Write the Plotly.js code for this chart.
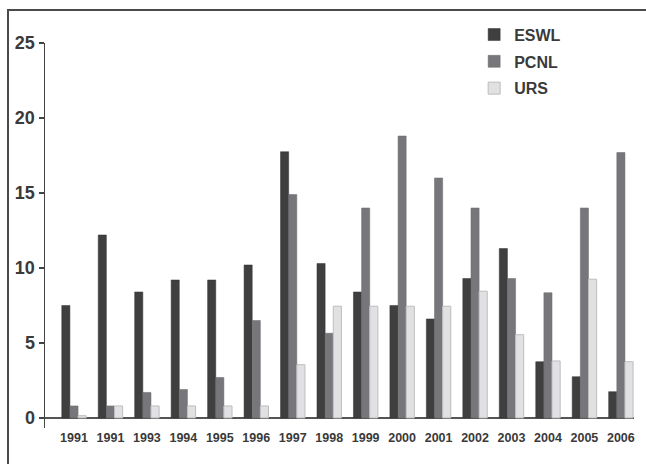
<!DOCTYPE html>
<html>
<head>
<meta charset="utf-8">
<script src="https://cdn.plot.ly/plotly-3.0.1.min.js"></script>
<style>
  html, body { margin: 0; padding: 0; background: #fff; }
  #wrap { position: relative; width: 646px; height: 464px; }
  #chart { position: absolute; left: 0; top: 0; width: 646px; height: 464px; }
  #frame { position: absolute; left: 7px; top: 9px; right: 0; bottom: 0;
           border-left: 2px solid #4a4a4a; border-top: 2px solid #4a4a4a; pointer-events: none; }
</style>
</head>
<body>
<div id="wrap">
  <div id="chart"></div>
  <div id="frame"></div>
</div>
<script>
const years = ['1991', '1991', '1993', '1994', '1995', '1996', '1997', '1998',
               '1999', '2000', '2001', '2002', '2003', '2004', '2005', '2006'];
const eswl = [7.5, 12.2, 8.4, 9.2, 9.2, 10.2, 17.75, 10.3, 8.4, 7.5, 6.6, 9.3, 11.3, 3.75, 2.75, 1.75];
const pcnl = [0.8, 0.8, 1.7, 1.9, 2.7, 6.5, 14.9, 5.65, 14.0, 18.8, 16.0, 14.0, 9.3, 8.35, 14.0, 17.7];
const urs  = [0.15, 0.8, 0.8, 0.8, 0.8, 0.8, 3.55, 7.45, 7.45, 7.45, 7.45, 8.45, 5.55, 3.8, 9.25, 3.75];
const yTicks = [0, 5, 10, 15, 20, 25];

// positions of the year slots (one slot per label, in order)
const slots = years.map((_, i) => i);

const FONT = '"Liberation Sans", Arial, sans-serif';
const INK = '#3a3a3a';

const traces = [
  { type: 'bar', name: 'ESWL', legendgroup: 'g1', x: slots, y: eswl,
    marker: { color: '#3f3f3f', line: { color: '#333', width: 0.5 } } },
  { type: 'bar', name: 'PCNL', legendgroup: 'g2', x: slots, y: pcnl,
    marker: { color: '#77777b', line: { color: '#6a6a6e', width: 0.5 } } },
  { type: 'bar', name: 'URS', legendgroup: 'g3', x: slots, y: urs,
    marker: { color: '#e1e1e3', line: { color: '#bdbdbf', width: 1 } } }
];

const layout = {
  width: 646, height: 464,
  margin: { l: 45, r: 12, t: 43, b: 36, pad: 0, autoexpand: false },
  paper_bgcolor: '#fff', plot_bgcolor: '#fff',
  barmode: 'group', bargap: 0.33, bargroupgap: 0,
  font: { family: FONT, color: INK },
  showlegend: true,
  legend: {
    xref: 'container', yref: 'container',
    x: 0.734, y: 0.962, xanchor: 'left', yanchor: 'top',
    font: { family: FONT, size: 16, weight: 'bold', color: INK },
    bgcolor: 'rgba(0,0,0,0)', itemwidth: 30, tracegroupgap: 3
  },
  xaxis: {
    type: 'linear', range: [-0.795, 15.36],
    tickvals: slots, ticktext: years,
    showline: false, showgrid: false, zeroline: false, ticks: '',
    tickfont: { family: FONT, size: 12.5, weight: 'bold', color: INK },
    tickangle: 0, fixedrange: true
  },
  yaxis: {
    range: [-0.67, 25], tickvals: yTicks, ticktext: yTicks.map(String),
    showline: true, linecolor: '#444', linewidth: 1.5,
    ticks: 'outside', ticklen: 5, tickwidth: 1.5, tickcolor: '#444',
    showgrid: false, zeroline: true, zerolinecolor: '#555', zerolinewidth: 1.5,
    tickfont: { family: FONT, size: 18, weight: 'bold', color: INK },
    fixedrange: true
  }
};

Plotly.newPlot('chart', traces, layout, { displayModeBar: false, staticPlot: true });
</script>
</body>
</html>
